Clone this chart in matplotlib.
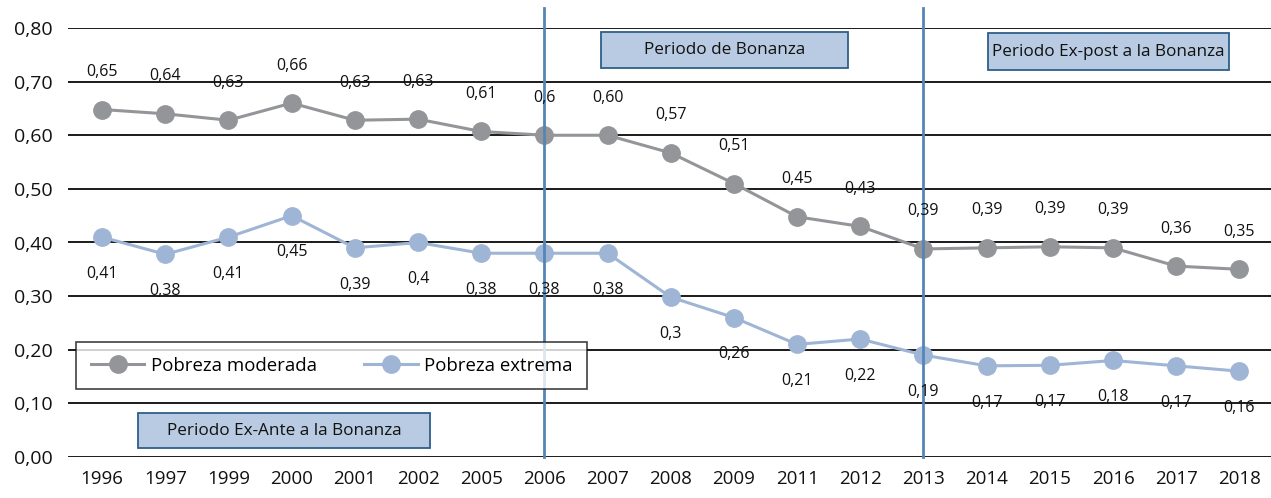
import matplotlib.pyplot as plt
from matplotlib.patches import Rectangle

plt.rcParams['font.family'] = ['Open Sans', 'DejaVu Sans']

# ----------------------------------
# Data
# ----------------------------------
years = ['1996', '1997', '1999', '2000', '2001', '2002', '2005', '2006', '2007', '2008',
         '2009', '2011', '2012', '2013', '2014', '2015', '2016', '2017', '2018']

moderada = [0.648, 0.640, 0.628, 0.660, 0.628, 0.630, 0.607, 0.600, 0.600, 0.567,
            0.510, 0.448, 0.430, 0.388, 0.390, 0.392, 0.390, 0.356, 0.350]
moderada_labels = ['0,65', '0,64', '0,63', '0,66', '0,63', '0,63', '0,61', '0,6', '0,60', '0,57',
                   '0,51', '0,45', '0,43', '0,39', '0,39', '0,39', '0,39', '0,36', '0,35']

extrema = [0.410, 0.378, 0.410, 0.450, 0.390, 0.400, 0.380, 0.380, 0.380, 0.298,
           0.260, 0.210, 0.220, 0.190, 0.170, 0.171, 0.180, 0.170, 0.160]
extrema_labels = ['0,41', '0,38', '0,41', '0,45', '0,39', '0,4', '0,38', '0,38', '0,38', '0,3',
                  '0,26', '0,21', '0,22', '0,19', '0,17', '0,17', '0,18', '0,17', '0,16']

periodos = ['Periodo Ex-Ante a la Bonanza', 'Periodo de Bonanza', 'Periodo Ex-post a la Bonanza']
cortes = ['2006', '2013']

# ----------------------------------
# Figure
# ----------------------------------
W, H = 1271, 498
fig = plt.figure(figsize=(W / 100, H / 100), dpi=100)
ax = fig.add_axes([68 / W, 41 / H, 1 - 68 / W, 429 / H])

x = list(range(len(years)))
gray = '#939598'
blue = '#9fb5d5'

ax.plot(x, moderada, color=gray, lw=2.2, marker='o', ms=12.5, label='Pobreza moderada', zorder=4)
ax.plot(x, extrema, color=blue, lw=2.2, marker='o', ms=12.5, label='Pobreza extrema', zorder=4)

for xi, v, t in zip(x, moderada, moderada_labels):
    ax.annotate(t, (xi, v), xytext=(0, 27), textcoords='offset points',
                ha='center', va='center', fontsize=11.5, color='#111111', zorder=6)
for xi, v, t in zip(x, extrema, extrema_labels):
    ax.annotate(t, (xi, v), xytext=(0, -26.5), textcoords='offset points',
                ha='center', va='center', fontsize=11.5, color='#111111', zorder=6)

# period separators
for c in cortes:
    ax.plot([years.index(c)] * 2, [0, 1.047], color='#5585b5', lw=2,
            transform=ax.get_xaxis_transform(), clip_on=False, zorder=5)

ax.set_xlim(-0.54, 18.5)
ax.set_ylim(0, 0.8)
ax.set_xticks(x)
ax.set_xticklabels(years, fontsize=13.5, color='#111111')
ax.set_yticks([i / 10 for i in range(9)])
ax.yaxis.set_major_formatter(plt.FuncFormatter(lambda v, p: ('%.2f' % v).replace('.', ',')))
ax.tick_params(axis='y', labelsize=14, labelcolor='#111111', pad=11)
ax.tick_params(axis='x', pad=9)
ax.tick_params(length=0)
ax.grid(axis='y', color='#1a1a1a', lw=1.4)
ax.set_axisbelow(True)
for s in ax.spines.values():
    s.set_visible(False)

# legend
leg = ax.legend(loc='upper left', bbox_to_anchor=(8 / 1203, 115 / 429),
                ncol=2, frameon=True, fancybox=False, fontsize=13.4,
                handlelength=2.9, borderpad=0.78, columnspacing=2.5, handletextpad=0.35,
                borderaxespad=0)
leg.get_frame().set_edgecolor('#111111')
leg.get_frame().set_linewidth(1.2)
leg.set_zorder(7)

# period boxes (pixel positions)
cajas = [(138, 413, 430, 448), (601, 32, 848, 68), (988, 33, 1229, 70)]
for (x0, y0, x1, y1), t in zip(cajas, periodos):
    fig.add_artist(Rectangle((x0 / W, 1 - y1 / H), (x1 - x0) / W, (y1 - y0) / H,
                             transform=fig.transFigure, facecolor='#b9cbe2',
                             edgecolor='#2e5f8a', lw=1.3, zorder=8))
    fig.text((x0 + x1) / 2 / W, 1 - (y0 + y1) / 2 / H, t, ha='center', va='center',
             fontsize=12.3, color='#111111', zorder=9)

fig.savefig('out.png', dpi=100)
